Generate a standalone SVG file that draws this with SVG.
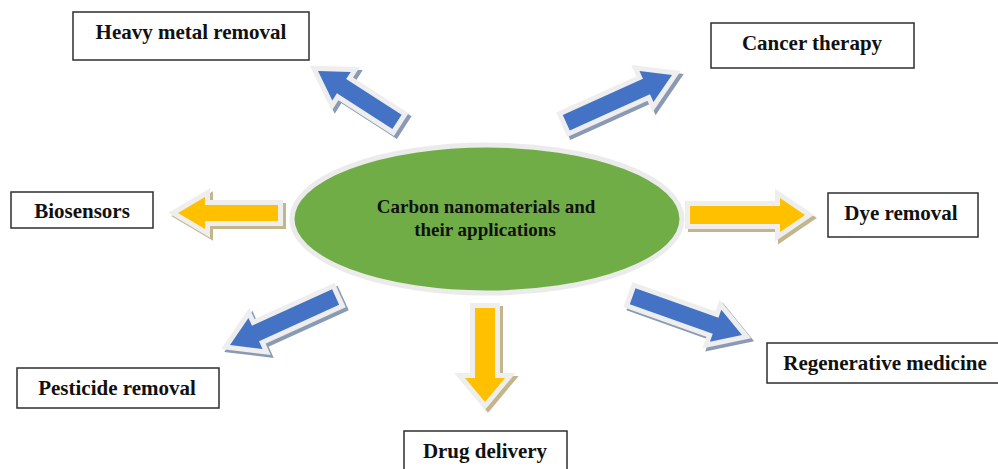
<svg xmlns="http://www.w3.org/2000/svg" xmlns:xlink="http://www.w3.org/1999/xlink" width="998" height="469" viewBox="0 0 998 469">
<style>
.box{fill:#ffffff;stroke:#2e2e2e;stroke-width:1.5}
.lbl{font-family:"Liberation Serif","Times New Roman",serif;font-weight:bold;font-size:21px;fill:#111;text-anchor:middle}
.ctr{font-family:"Liberation Serif","Times New Roman",serif;font-weight:bold;font-size:19px;fill:#111;text-anchor:middle}
.sb{fill:#8a9ab4;stroke:#8a9ab4;stroke-width:10;stroke-linejoin:miter}
.sy{fill:#c4b68c;stroke:#c4b68c;stroke-width:10;stroke-linejoin:miter}
.ol{fill:#eeeeee;stroke:#eeeeee;stroke-width:10;stroke-linejoin:miter}
.fb{fill:#4472c4}
.fy{fill:#ffc000}
</style>
<rect width="998" height="469" fill="#ffffff"/>
<defs>
<path id="aBlueS" d="M0,0 L-28,-17 L-28,-8.5 L-94,-8.5 L-94,8.5 L-28,8.5 L-28,17 Z"/>
<path id="aBlueM" d="M0,0 L-28,-17 L-28,-8.5 L-116,-8.5 L-116,8.5 L-28,8.5 L-28,17 Z"/>
<path id="aBios" d="M0,0 L-27,-16 L-27,-8 L-100,-8 L-100,8 L-27,8 L-27,16 Z"/>
<path id="aDye" d="M0,0 L-25,-17 L-25,-9 L-115,-9 L-115,9 L-25,9 L-25,17 Z"/>
<path id="aDrug" d="M0,0 L-24,-20 L-24,-10 L-94,-10 L-94,10 L-24,10 L-24,20 Z"/>
</defs>
<g id="connectors">
  <g id="arrow-heavy">
    <g transform="translate(3,3)"><use xlink:href="#aBlueS" class="sb" transform="translate(318,71) rotate(212.8)"/></g>
    <use xlink:href="#aBlueS" class="ol" transform="translate(318,71) rotate(212.8)"/>
    <use xlink:href="#aBlueS" class="fb" transform="translate(318,71) rotate(212.8)"/>
  </g>
  <g id="arrow-cancer">
    <g transform="translate(3,3)"><use xlink:href="#aBlueM" class="sb" transform="translate(672,75) rotate(-24.3)"/></g>
    <use xlink:href="#aBlueM" class="ol" transform="translate(672,75) rotate(-24.3)"/>
    <use xlink:href="#aBlueM" class="fb" transform="translate(672,75) rotate(-24.3)"/>
  </g>
  <g id="arrow-pesticide">
    <g transform="translate(3,3)"><use xlink:href="#aBlueM" class="sb" transform="translate(230,345) rotate(155.6)"/></g>
    <use xlink:href="#aBlueM" class="ol" transform="translate(230,345) rotate(155.6)"/>
    <use xlink:href="#aBlueM" class="fb" transform="translate(230,345) rotate(155.6)"/>
  </g>
  <g id="arrow-regen">
    <g transform="translate(3,3)"><use xlink:href="#aBlueM" class="sb" transform="translate(742,335) rotate(19.5)"/></g>
    <use xlink:href="#aBlueM" class="ol" transform="translate(742,335) rotate(19.5)"/>
    <use xlink:href="#aBlueM" class="fb" transform="translate(742,335) rotate(19.5)"/>
  </g>
  <g id="arrow-bios">
    <g transform="translate(3,3)"><use xlink:href="#aBios" class="sy" transform="translate(178,213) rotate(180)"/></g>
    <use xlink:href="#aBios" class="ol" transform="translate(178,213) rotate(180)"/>
    <use xlink:href="#aBios" class="fy" transform="translate(178,213) rotate(180)"/>
  </g>
  <g id="arrow-dye">
    <g transform="translate(3,3)"><use xlink:href="#aDye" class="sy" transform="translate(805,215)"/></g>
    <use xlink:href="#aDye" class="ol" transform="translate(805,215)"/>
    <use xlink:href="#aDye" class="fy" transform="translate(805,215)"/>
  </g>
  <g id="arrow-drug">
    <g transform="translate(3,3)"><use xlink:href="#aDrug" class="sy" transform="translate(485,402) rotate(90)"/></g>
    <use xlink:href="#aDrug" class="ol" transform="translate(485,402) rotate(90)"/>
    <use xlink:href="#aDrug" class="fy" transform="translate(485,402) rotate(90)"/>
  </g>
</g>
<g id="center">
  <ellipse cx="487" cy="219" rx="195" ry="74" fill="#70ad47" stroke="#ebebeb" stroke-width="5"/>
  <text class="ctr" x="486" y="213">Carbon nanomaterials and</text>
  <text class="ctr" x="485" y="236">their applications</text>
</g>
<g id="heavy-metal">
  <rect class="box" x="73" y="12" width="236" height="48"/>
  <text class="lbl" x="191" y="39">Heavy metal removal</text>
</g>
<g id="cancer">
  <rect class="box" x="711" y="23" width="203" height="45"/>
  <text class="lbl" x="812" y="50">Cancer therapy</text>
</g>
<g id="biosensors">
  <rect class="box" x="11" y="192" width="142" height="36"/>
  <text class="lbl" x="82" y="218">Biosensors</text>
</g>
<g id="dye">
  <rect class="box" x="828" y="193" width="150" height="44"/>
  <text class="lbl" x="901" y="220">Dye removal</text>
</g>
<g id="pesticide">
  <rect class="box" x="17" y="368" width="202" height="40"/>
  <text class="lbl" x="117" y="395">Pesticide removal</text>
</g>
<g id="drug">
  <rect class="box" x="404" y="431" width="163" height="41"/>
  <text class="lbl" x="485" y="458">Drug delivery</text>
</g>
<g id="regen">
  <rect class="box" x="767" y="343" width="240" height="40"/>
  <text class="lbl" x="885" y="370">Regenerative medicine</text>
</g>
</svg>
